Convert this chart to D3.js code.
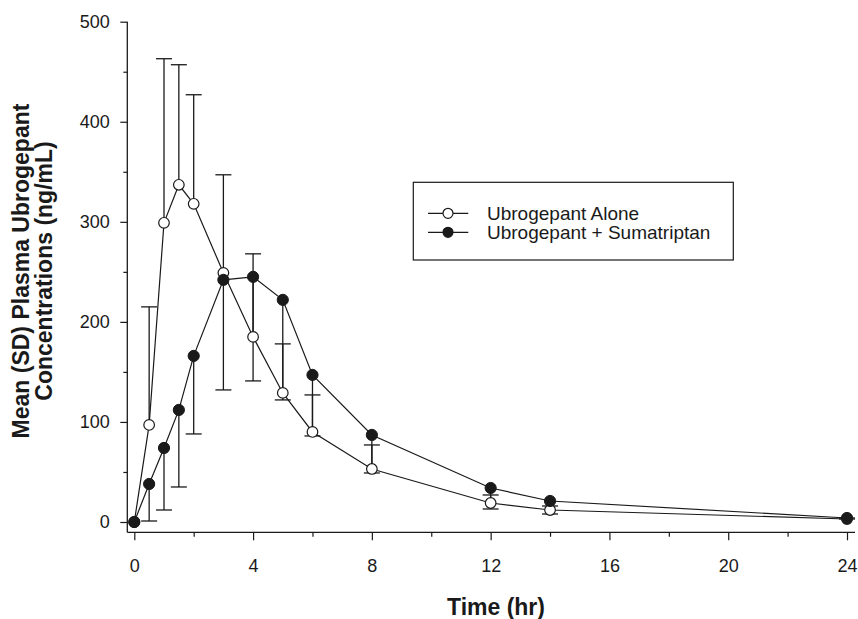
<!DOCTYPE html>
<html>
<head>
<meta charset="utf-8">
<script src="https://cdn.jsdelivr.net/npm/d3@7"></script>
<style>
  html, body { margin: 0; padding: 0; background: #fff; }
  svg { display: block; }
  text { font-family: "Liberation Sans", Arial, sans-serif; fill: #1a1a1a; }
</style>
</head>
<body>
<svg id="chart" width="858" height="619"></svg>
<script>
// ---- Data ----
const timeHr = [0, 0.5, 1, 1.5, 2, 3, 4, 5, 6, 8, 12, 14, 24];
const aloneMean = [0, 97, 299, 337, 318, 249, 185, 129, 90, 53, 19, 12, 3];
const aloneSD   = [0, 118, 164, 120, 109, 98, 83, 49, 37, 24, 8, 4, 1];
const comboMean = [0, 38, 74, 112, 166, 242, 245, 222, 147, 87, 34, 21, 4];
const comboSD   = [0, 37, 62, 77, 78, 110, 104, 100, 61, 38, 21, 13, 1];
const xTickLabels = [0, 4, 8, 12, 16, 20, 24];
const yTickLabels = [0, 100, 200, 300, 400, 500];
const seriesNames = ["Ubrogepant Alone", "Ubrogepant + Sumatriptan"];
const xTitle = "Time (hr)";
const yTitleLines = ["Mean (SD) Plasma Ubrogepant", "Concentrations (ng/mL)"];

const ink = "#1a1a1a";
const svg = d3.select("#chart");

const x = d3.scaleLinear().domain([0, 24]).range([134.3, 847]);
const y = d3.scaleLinear().domain([0, 500]).range([522, 21.7]);
const axisX0 = 127.3, axisY0 = 532.3;

// axis lines
svg.append("line").attr("x1", axisX0).attr("x2", axisX0).attr("y1", y(500)).attr("y2", axisY0)
  .attr("stroke", ink).attr("stroke-width", 1.3);
svg.append("line").attr("x1", axisX0).attr("x2", 855).attr("y1", axisY0).attr("y2", axisY0)
  .attr("stroke", ink).attr("stroke-width", 1.3);

// Y axis
const yAxis = svg.append("g").attr("transform", `translate(${axisX0},0)`)
  .call(d3.axisLeft(y).tickValues(yTickLabels).tickSize(7).tickPadding(10.5).tickFormat(d3.format("d")));
const yMinor = svg.append("g").attr("transform", `translate(${axisX0},0)`)
  .call(d3.axisLeft(y).tickValues(d3.range(50, 500, 100)).tickSize(4).tickFormat(""));
// X axis
const xAxis = svg.append("g").attr("transform", `translate(0,${axisY0})`)
  .call(d3.axisBottom(x).tickValues(xTickLabels).tickSize(8).tickPadding(19).tickFormat(d3.format("d")));
const xMinor = svg.append("g").attr("transform", `translate(0,${axisY0})`)
  .call(d3.axisBottom(x).tickValues(d3.range(2, 24, 4)).tickSize(4.5).tickFormat(""));

[yAxis, yMinor, xAxis, xMinor].forEach(g => {
  g.select(".domain").remove();
  g.selectAll(".tick line").attr("stroke", ink).attr("stroke-width", 1.2);
  g.selectAll(".tick text").attr("font-size", 18).attr("font-family", "Liberation Sans, Arial, sans-serif").attr("fill", ink);
});

// titles
svg.append("text").attr("x", 496).attr("y", 615).attr("text-anchor", "middle")
  .attr("font-size", 23).attr("font-weight", "bold").text(xTitle);
const yt = svg.append("text").attr("transform", "translate(28.5,271) rotate(-90)")
  .attr("text-anchor", "middle").attr("font-size", 23).attr("font-weight", "bold");
yt.append("tspan").attr("x", 0).attr("y", 0).text(yTitleLines[0]);
yt.append("tspan").attr("x", 0).attr("y", 23.5).text(yTitleLines[1]);

// data
const alone = timeHr.map((t, i) => ({t, m: aloneMean[i], sd: aloneSD[i]}));
const combo = timeHr.map((t, i) => ({t, m: comboMean[i], sd: comboSD[i]}));
const line = d3.line().x(d => x(d.t)).y(d => y(d.m));

svg.append("path").datum(alone).attr("d", line).attr("fill", "none").attr("stroke", ink).attr("stroke-width", 1.2);
svg.append("path").datum(combo).attr("d", line).attr("fill", "none").attr("stroke", ink).attr("stroke-width", 1.2);

// error bars: open series upward, filled series downward
const capHalf = 8;
function errBars(data, dir) {
  const g = svg.append("g").attr("stroke", ink).attr("stroke-width", 1.3);
  data.filter(d => d.sd > 0).forEach(d => {
    const end = Math.max(0, d.m + dir * d.sd);
    g.append("line").attr("x1", x(d.t)).attr("x2", x(d.t)).attr("y1", y(d.m)).attr("y2", y(end));
    g.append("line").attr("x1", x(d.t) - capHalf).attr("x2", x(d.t) + capHalf).attr("y1", y(end)).attr("y2", y(end));
  });
}
errBars(alone, 1);
errBars(combo, -1);

svg.append("g").selectAll("circle").data(alone).join("circle")
  .attr("cx", d => x(d.t)).attr("cy", d => y(d.m)).attr("r", 5.3)
  .attr("fill", "#fff").attr("stroke", ink).attr("stroke-width", 1.2);
svg.append("g").selectAll("circle").data(combo).join("circle")
  .attr("cx", d => x(d.t)).attr("cy", d => y(d.m)).attr("r", 5.6)
  .attr("fill", ink).attr("stroke", ink).attr("stroke-width", 1);

// legend
const lg = svg.append("g");
lg.append("rect").attr("x", 413.3).attr("y", 182.3).attr("width", 320).attr("height", 77.7)
  .attr("fill", "#fff").attr("stroke", ink).attr("stroke-width", 1.2);
const rows = [213.3, 232.3];
seriesNames.forEach((name, i) => {
  lg.append("line").attr("x1", 428).attr("x2", 468.3).attr("y1", rows[i]).attr("y2", rows[i])
    .attr("stroke", ink).attr("stroke-width", 1.2);
  lg.append("circle").attr("cx", 448).attr("cy", rows[i]).attr("r", 5)
    .attr("fill", i === 0 ? "#fff" : ink).attr("stroke", ink).attr("stroke-width", 1.2);
  lg.append("text").attr("x", 487).attr("y", rows[i]).attr("dy", "0.35em")
    .attr("font-size", 19).text(name);
});
</script>
</body>
</html>
